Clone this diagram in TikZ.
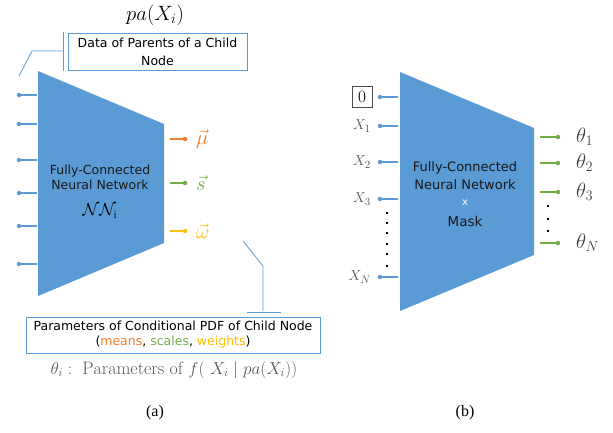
\documentclass[tikz,border=0pt]{standalone}
\usepackage{fontspec}
\usepackage{amsmath}
\newfontfamily\boxfont{DejaVu Sans}
\newfontfamily\capfont{Liberation Serif}
\definecolor{netblue}{HTML}{5B9BD5}
\definecolor{muorange}{HTML}{ED7D31}
\definecolor{sgreen}{HTML}{70AD47}
\definecolor{wyellow}{HTML}{FFC000}
\definecolor{labgray}{HTML}{595959}
\tikzset{
  pin/.style={circle,fill=#1,inner sep=0pt,minimum size=4.5pt},
  wire/.style={draw=#1,line width=1.1pt},
  callout/.style={draw=netblue,line width=0.8pt},
  notebox/.style={draw=netblue,line width=0.8pt,align=center,inner sep=0pt},
  nettext/.style={font=\boxfont\fontsize{12.5}{15}\selectfont,text=black!90,align=center},
  dotsq/.style={fill=black,minimum size=2.6pt,inner sep=0pt},
}

\begin{document}
\begin{tikzpicture}[x=1pt,y=-1pt]
  \useasboundingbox (0,0) rectangle (613,432);
  % (a)
  \fill[netblue] (38,71) -- (164,124) -- (164,243) -- (38,296) -- cycle;
  \node[font=\fontsize{19.5}{19.5}\selectfont] (paX) at (155,15) {$pa(X_i)$};
  \node[notebox,minimum width=179pt,minimum height=37pt,font=\boxfont\fontsize{12.5}{18}\selectfont] (dataBox) at (157.5,51.5) {Data of Parents of a Child\\Node};
  \coordinate (dataTip) at (19,76);
  \coordinate (dataBar) at (63,51);
  \draw[callout] (dataTip) -- (32,51) -- (dataBar);
  \draw[callout] (63,32) -- (63,71);
  \foreach \y [count=\i] in {95,124,160,193,226,264}{
    \node[pin=netblue] (inA\i) at (19,\y) {};
    \coordinate (edgeA\i) at (37,\y);
    \draw[wire=netblue] (inA\i) -- (edgeA\i);
  }
  \foreach \y/\c/\t [count=\i] in {139/muorange/\vec{\mu},183/sgreen/\vec{s},231/wyellow/\vec{\omega}}{
    \coordinate (stubA\i) at (170,\y);
    \node[pin=\c] (outA\i) at (185,\y) {};
    \node[text=\c,anchor=west,inner sep=1pt,font=\fontsize{22}{22}\selectfont] (parA\i) at (195,\y) {$\t$};
    \draw[wire=\c] (stubA\i) -- (outA\i);
  }
  \node[nettext] (netA) at (100,177.5) {Fully-Connected\\Neural Network};
  \node[font=\fontsize{16.5}{16.5}\selectfont] (nnA) at (100,211) {$\mathcal{N}\mathcal{N}_{\mathrm{i}}$};
  \coordinate (parTip) at (243,241);
  \coordinate (parBar) at (263,311);
  \draw[callout] (parTip) -- (263,266) -- (parBar);
  \draw[callout] (247,312) -- (281,312);
  \node[notebox,minimum width=294pt,minimum height=36pt,font=\boxfont\fontsize{12.5}{15}\selectfont] (parBox) at (173,335)
    {Parameters of Conditional PDF of Child Node\\(\textcolor{muorange}{means}, \textcolor{sgreen}{scales}, \textcolor{wyellow}{weights})};
  \node[text=labgray,font=\fontsize{18}{18}\selectfont] (thetaDef) at (174,370)
    {$\theta_i :\ \mathrm{Parameters\ of}\ f(\ X_i\mid pa(X_i))$};
  \node[font=\capfont\fontsize{16}{16}\selectfont] (capA) at (155,413) {(a)};
  % (b)
  \fill[netblue] (400,72) -- (534,128) -- (534,255) -- (400,311) -- cycle;
  \node[draw=black!70,line width=0.6pt,minimum width=20pt,minimum height=21pt,inner sep=0pt,font=\fontsize{16}{16}\selectfont] (zeroIn) at (362,97) {$0$};
  \node[pin=netblue] (inB0) at (380,97) {};
  \coordinate (edgeB0) at (398,97);
  \draw[wire=netblue] (inB0) -- (edgeB0);
  \foreach \y/\t [count=\i] in {126/1,162/2,199/3,277/N}{
    \node[text=labgray,anchor=east,inner sep=1pt,font=\fontsize{15}{15}\selectfont] (xB\i) at (372,\y) {$X_{\t}$};
    \node[pin=netblue] (inB\i) at (380,\y) {};
    \coordinate (edgeB\i) at (398,\y);
    \draw[wire=netblue] (inB\i) -- (edgeB\i);
  }
  \foreach \y in {213,223,233,244,254,266}
    \node[dotsq] (dotB\y) at (387,\y) {};
  \foreach \y/\t [count=\i] in {137/1,163/2,192/3,243/N}{
    \coordinate (stubB\i) at (540,\y);
    \node[pin=sgreen] (outB\i) at (558,\y) {};
    \node[text=black!75,anchor=west,inner sep=1pt,font=\fontsize{20}{20}\selectfont] (thB\i) at (575,\y) {$\theta_{\t}$};
    \draw[wire=sgreen] (stubB\i) -- (outB\i);
  }
  \foreach \y in {206,219,231}
    \node[dotsq] (dotC\y) at (548,\y) {};
  \node[nettext,font=\boxfont\fontsize{13}{18}\selectfont] (netB) at (465,176) {Fully-Connected\\Neural Network};
  \node[text=white,font=\boxfont\fontsize{10}{10}\selectfont] (maskX) at (465,203) {x};
  \node[nettext,font=\boxfont\fontsize{13.5}{13.5}\selectfont] (maskB) at (465,221) {Mask};
  \node[font=\capfont\fontsize{16}{16}\selectfont] (capB) at (465,413) {(b)};
\end{tikzpicture}
\end{document}
